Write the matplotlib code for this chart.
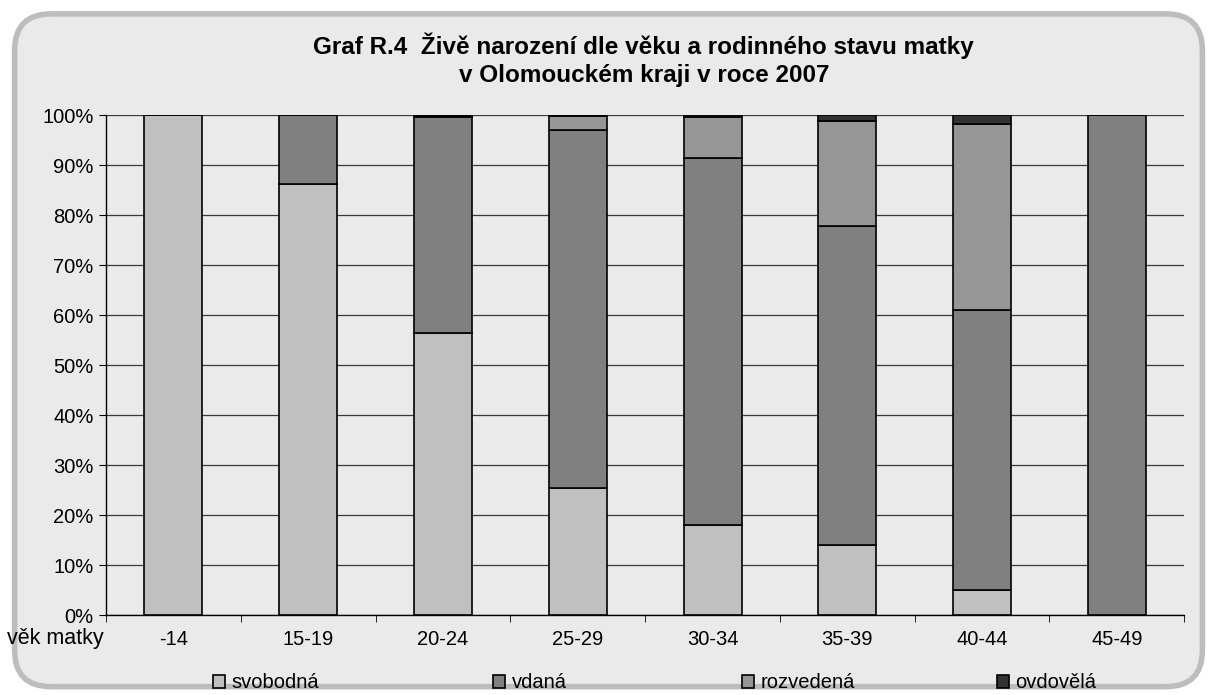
import numpy as np
import matplotlib.pyplot as plt
from matplotlib.patches import FancyBboxPatch
from matplotlib.ticker import PercentFormatter

plt.rcParams['font.family'] = ['Liberation Sans', 'DejaVu Sans']

ages = ["-14", "15-19", "20-24", "25-29", "30-34", "35-39", "40-44", "45-49"]
svobodna = [100.0, 86.3, 56.4, 25.5, 18.1, 14.0, 5.0, 0.0]
vdana = [0.0, 13.7, 43.3, 71.5, 73.4, 63.9, 56.0, 100.0]
rozvedena = [0.0, 0.0, 0.2, 2.9, 8.2, 21.0, 37.2, 0.0]
ovdovela = [0.0, 0.0, 0.1, 0.1, 0.3, 1.1, 1.8, 0.0]

series = [("svobodná", svobodna, "#c0c0c0"),
          ("vdaná", vdana, "#808080"),
          ("rozvedená", rozvedena, "#969696"),
          ("ovdovělá", ovdovela, "#333333")]

bg = "#eaeaea"
fig = plt.figure(figsize=(12.17, 6.95), dpi=100)
fig.patch.set_facecolor("white")

# rounded frame
frame = FancyBboxPatch((0.012, 0.012), 0.976, 0.968, boxstyle="round,pad=0,rounding_size=0.03",
                       transform=fig.transFigure, facecolor=bg, edgecolor="#bdbdbd",
                       linewidth=4, mutation_aspect=1.75, zorder=-10)
fig.patches.append(frame)

ax = fig.add_axes([0.0871, 0.115, 0.886, 0.7195])
ax.set_facecolor(bg)

ind = np.arange(len(ages))
bottom = np.zeros(len(ages))
bars = []
for name, vals, col in series:
    vals = np.array(vals)
    b = ax.bar(ind, vals, 0.43, bottom=bottom, color=col, edgecolor="black",
               linewidth=1.2, label=name, zorder=3)
    bars.append(b)
    bottom += vals

ax.set_xlim(-0.5, len(ages) - 0.5)
ax.set_ylim(0, 100)
ax.set_yticks(np.arange(0, 101, 10))
ax.yaxis.set_major_formatter(PercentFormatter(decimals=0))
ax.grid(axis="y", color="#3a3a3a", linewidth=0.9, zorder=0)

ax.set_xticks(ind)
ax.set_xticklabels(ages)
ax.set_xticks(np.arange(-0.5, len(ages), 1.0), minor=True)
ax.tick_params(axis="x", which="major", length=0, pad=11, labelsize=14.5)
ax.tick_params(axis="x", which="minor", length=5, direction="out", color="black")
ax.tick_params(axis="y", length=5, direction="out", labelsize=14.5, pad=4)

for s in ["top", "right"]:
    ax.spines[s].set_visible(False)
for s in ["left", "bottom"]:
    ax.spines[s].set_color("black")
    ax.spines[s].set_linewidth(1.0)

fig.text(0.006, 0.081, "věk matky", fontsize=15.5, ha="left", va="center")

fig.text(0.529, 0.914, "Graf R.4  Živě narození dle věku a rodinného stavu matky\nv Olomouckém kraji v roce 2007",
         ha="center", va="center", fontsize=17.5, fontweight="bold", linespacing=1.3)

# legend entries spread along the bottom
leg_x = [213, 493, 742, 997]
for b, (name, _, _), x in zip(bars, series, leg_x):
    lg = fig.legend([b], [name], loc="center left", bbox_to_anchor=(x / 1217, 1 - 683 / 695),
                    frameon=False, fontsize=14.5, handlelength=0.62, handleheight=0.62,
                    handletextpad=0.3, borderaxespad=0, borderpad=0)

plt.savefig("out.png", dpi=100, facecolor=fig.get_facecolor())
